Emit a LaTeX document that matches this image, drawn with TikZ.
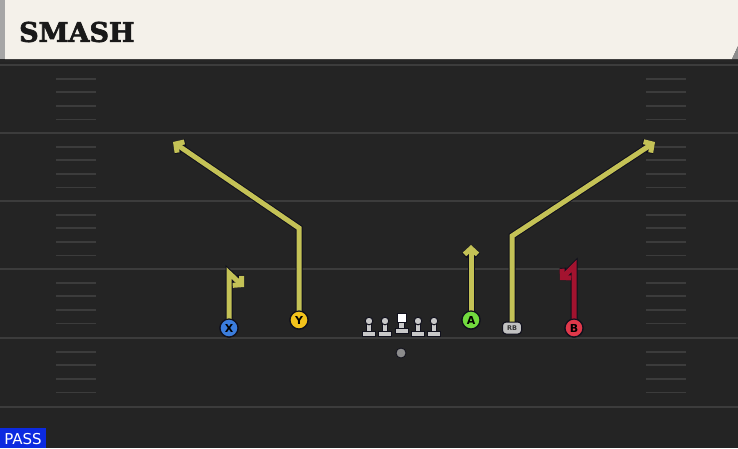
\documentclass[tikz,border=0pt]{standalone}
\usepackage{fontspec}
\usetikzlibrary{arrows.meta}
\newfontfamily\slabfont{DejaVu Serif}[BoldFeatures={FakeBold=2.5}]
\newfontfamily\dvsans{DejaVu Sans}
\definecolor{bg}{HTML}{242424}
\definecolor{fieldline}{HTML}{3C3C3C}
\definecolor{hdr}{HTML}{F4F1EA}
\definecolor{routey}{HTML}{C4C256}
\definecolor{router}{HTML}{A3132F}
\definecolor{outl}{HTML}{10101C}
\definecolor{pblue}{HTML}{3B7DDD}
\definecolor{pyellow}{HTML}{F2C21B}
\definecolor{pgreen}{HTML}{72DA3E}
\definecolor{pred}{HTML}{E0384A}
\definecolor{pgray}{HTML}{C2C2C2}
\definecolor{olgray}{HTML}{C8C8C8}
\definecolor{passblue}{HTML}{0C2AE0}
\tikzset{
  fline/.style={draw=fieldline, line width=2pt},
  hash/.style={draw=fieldline, line width=1.8pt},
  routeout/.style={draw=outl, line width=7pt, line join=miter, -{Straight Barb[length=6pt,width=13pt]}},
  routein/.style={draw=#1, line width=5pt, line join=miter, -{Straight Barb[length=6pt,width=13pt]}},
  player/.style={circle, minimum size=18pt, inner sep=0pt, draw=outl, line width=1.2pt, fill=#1,
    font=\dvsans\bfseries\fontsize{11}{11}\selectfont, text=black},
  rbnode/.style={rounded corners=3.5pt, minimum width=19pt, minimum height=12pt, inner sep=0pt,
    draw=outl, line width=1pt, fill=pgray, font=\dvsans\bfseries\fontsize{6.5}{6.5}\selectfont, text=black!80},
  olpart/.style={fill=olgray, draw=outl, line width=1pt},
}
\begin{document}
\begin{tikzpicture}[x=1pt,y=-1pt]
\useasboundingbox (0,0) rectangle (738,448);
\fill[bg] (0,0) rectangle (738,448);
% field lines
\foreach \yy in {65,133,201,269,338,407} \draw[fline] (0,\yy) -- (738,\yy);
\foreach \yy in {65,133,201,269,338} \foreach \k in {1,2,3,4} {
  \draw[hash] (56,\yy+13.6*\k) -- (96,\yy+13.6*\k);
  \draw[hash] (646,\yy+13.6*\k) -- (686,\yy+13.6*\k);
}
% header
\fill[black!85] (0,58) rectangle (738,62);
\fill[hdr] (5,0) -- (738,0) -- (738,46) -- (732,59) -- (5,59) -- cycle;
\fill[black!35] (0,0) rectangle (5,59);
\fill[black!45] (738,46) -- (738,59) -- (732,59) -- cycle;
\node[anchor=west, inner sep=0pt, font=\slabfont\bfseries\fontsize{27}{27}\selectfont, text=black!90] (title) at (19,32) {SMASH};
% players
\node[player=pblue] (X) at (229,328) {X};
\node[player=pyellow] (Y) at (299,320) {Y};
\node[player=pgreen] (A) at (471,320) {A};
\node[rbnode] (RB) at (512,328) {RB};
\node[player=pred] (B) at (574,328) {B};
% route points
\coordinate (x1) at (229,273); \coordinate (x2) at (244,287);
\coordinate (y1) at (299,228); \coordinate (y2) at (173,142);
\coordinate (a1) at (471,245);
\coordinate (r1) at (512,236); \coordinate (r2) at (655,142);
\coordinate (b1) at (574,266); \coordinate (b2) at (560,280);
% routes
\draw[routeout] (X.center) -- (x1) -- (x2);
\draw[routein=routey] (X.center) -- (x1) -- (x2);
\draw[routeout] (Y.center) -- (y1) -- (y2);
\draw[routein=routey] (Y.center) -- (y1) -- (y2);
\draw[routeout] (A.center) -- (a1);
\draw[routein=routey] (A.center) -- (a1);
\draw[routeout] (RB.center) -- (r1) -- (r2);
\draw[routein=routey] (RB.center) -- (r1) -- (r2);
\draw[routeout] (B.center) -- (b1) -- (b2);
\draw[routein=router] (B.center) -- (b1) -- (b2);
% redraw player markers on top
\node[player=pblue] at (X) {X};
\node[player=pyellow] at (Y) {Y};
\node[player=pgreen] at (A) {A};
\node[rbnode] at (RB) {RB};
\node[player=pred] at (B) {B};
% offensive line
\foreach \xx in {369,385,418,434} {
  \draw[olpart] (\xx-6.5,331) rectangle (\xx+6.5,336.5);
  \draw[olpart] (\xx-2.6,323) rectangle (\xx+2.6,331);
  \draw[olpart] (\xx,321) circle (3.8);
}
\draw[olpart] (395,328) rectangle (408,333.5);
\draw[olpart] (398.9,320) rectangle (404.1,328);
\draw[fill=white, draw=outl, line width=1pt] (397,313) rectangle (406,322);
\node[circle, fill=black!45, draw=outl, line width=0.8pt, minimum size=10pt, inner sep=0pt] (QB) at (401,353) {};
% pass tag
\fill[passblue] (0,428) rectangle (46,448);
\node[inner sep=0pt, font=\dvsans\fontsize{15}{15}\selectfont, text=white] (pass) at (23,439) {PASS};
\end{tikzpicture}
\end{document}
